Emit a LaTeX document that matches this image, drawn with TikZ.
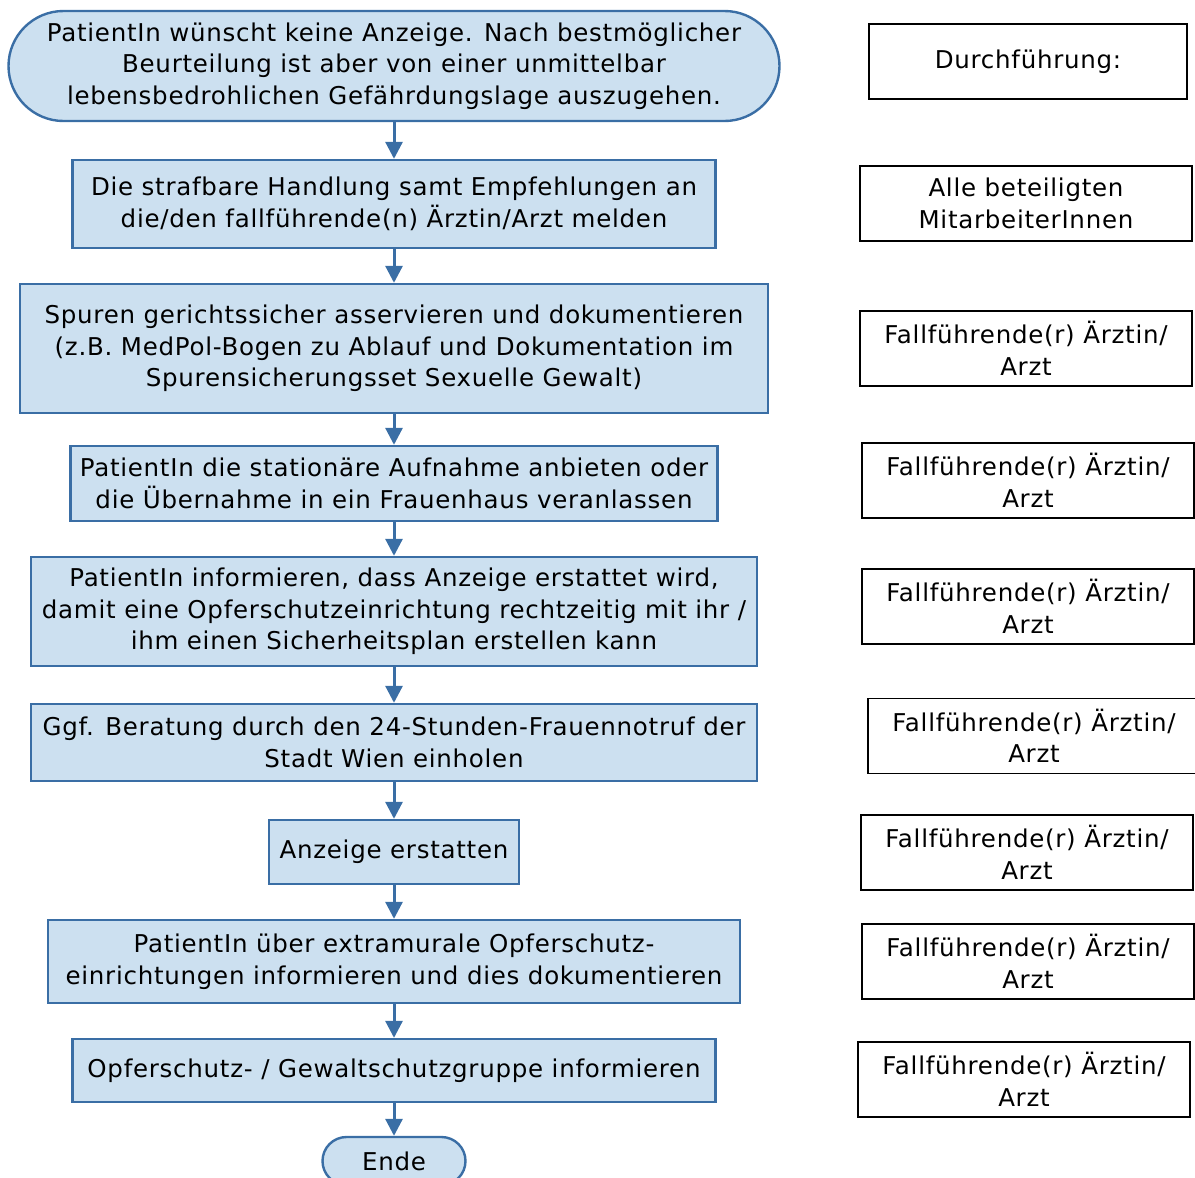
\documentclass[tikz,border=0pt]{standalone}
\usepackage{fontspec}
\setmainfont{DejaVu Sans}[LetterSpace=3]
\usetikzlibrary{arrows.meta}
\definecolor{boxfill}{RGB}{204,224,240}
\definecolor{boxline}{RGB}{58,110,165}
\begin{document}
\begin{tikzpicture}[x=1pt,y=-1pt,
  base/.style={inner sep=0pt, align=center, font=\fontsize{24.5}{31.5}\selectfont, text=black},
  flow/.style={base, draw=boxline, fill=boxfill, line width=2.4pt},
  term/.style={flow, rounded corners=#1},
  who/.style={base, draw=black, line width=1.6pt, minimum width=332pt, minimum height=75pt},
  conn/.style={draw=boxline, line width=3pt, -{Triangle[length=17pt,width=17pt]}}]
\useasboundingbox (0,0) rectangle (1195,1178);
\node[term=55pt, minimum width=771pt, minimum height=110pt] (start) at (394,66)
  {PatientIn wünscht keine Anzeige. Nach bestmöglicher\\Beurteilung ist aber von einer unmittelbar\\lebensbedrohlichen Gefährdungslage auszugehen.};
\node[flow, minimum width=643pt, minimum height=88pt] (b1) at (394,204)
  {Die strafbare Handlung samt Empfehlungen an\\die/den fallführende(n) Ärztin/Arzt melden};
\node[flow, minimum width=748pt, minimum height=129pt] (b2) at (394,348.5)
  {Spuren gerichtssicher asservieren und dokumentieren\\(z.B. MedPol-Bogen zu Ablauf und Dokumentation im\\Spurensicherungsset Sexuelle Gewalt)};
\node[flow, minimum width=647pt, minimum height=75pt] (b3) at (394,483.5)
  {PatientIn die stationäre Aufnahme anbieten oder\\die Übernahme in ein Frauenhaus veranlassen};
\node[flow, minimum width=726pt, minimum height=109pt] (b4) at (394,611.5)
  {PatientIn informieren, dass Anzeige erstattet wird,\\damit eine Opferschutzeinrichtung rechtzeitig mit ihr /\\ihm einen Sicherheitsplan erstellen kann};
\node[flow, minimum width=726pt, minimum height=77pt] (b5) at (394,742.5)
  {Ggf. Beratung durch den 24-Stunden-Frauennotruf der\\Stadt Wien einholen};
\node[flow, minimum width=250pt, minimum height=64pt] (b6) at (394,852)
  {Anzeige erstatten};
\node[flow, minimum width=692pt, minimum height=83pt] (b7) at (394,961.5)
  {PatientIn über extramurale Opferschutz-\\einrichtungen informieren und dies dokumentieren};
\node[flow, minimum width=643pt, minimum height=63pt] (b8) at (394,1070.5)
  {Opferschutz- / Gewaltschutzgruppe informieren};
\node[term=24pt, minimum width=143pt, minimum height=48pt] (ende) at (394,1161)
  {Ende};
\draw[conn] (start) -- (b1);
\draw[conn] (b1) -- (b2);
\draw[conn] (b2) -- (b3);
\draw[conn] (b3) -- (b4);
\draw[conn] (b4) -- (b5);
\draw[conn] (b5) -- (b6);
\draw[conn] (b6) -- (b7);
\draw[conn] (b7) -- (b8);
\draw[conn] (b8) -- (ende);
\node[who, minimum width=318pt] (r0) at (1028,61.5) {Durchführung:};
\node[who] (r1) at (1026,203.5) {Alle beteiligten\\MitarbeiterInnen};
\node[who] (r2) at (1026,348.5) {Fallführende(r) Ärztin/\\Arzt};
\node[who] (r3) at (1028,480.5) {Fallführende(r) Ärztin/\\Arzt};
\node[who] (r4) at (1028,606.5) {Fallführende(r) Ärztin/\\Arzt};
\node[who] (r5) at (1034,736) {Fallführende(r) Ärztin/\\Arzt};
\node[who] (r6) at (1027,852.5) {Fallführende(r) Ärztin/\\Arzt};
\node[who] (r7) at (1028,961.5) {Fallführende(r) Ärztin/\\Arzt};
\node[who] (r8) at (1024,1079.5) {Fallführende(r) Ärztin/\\Arzt};
\end{tikzpicture}
\end{document}
